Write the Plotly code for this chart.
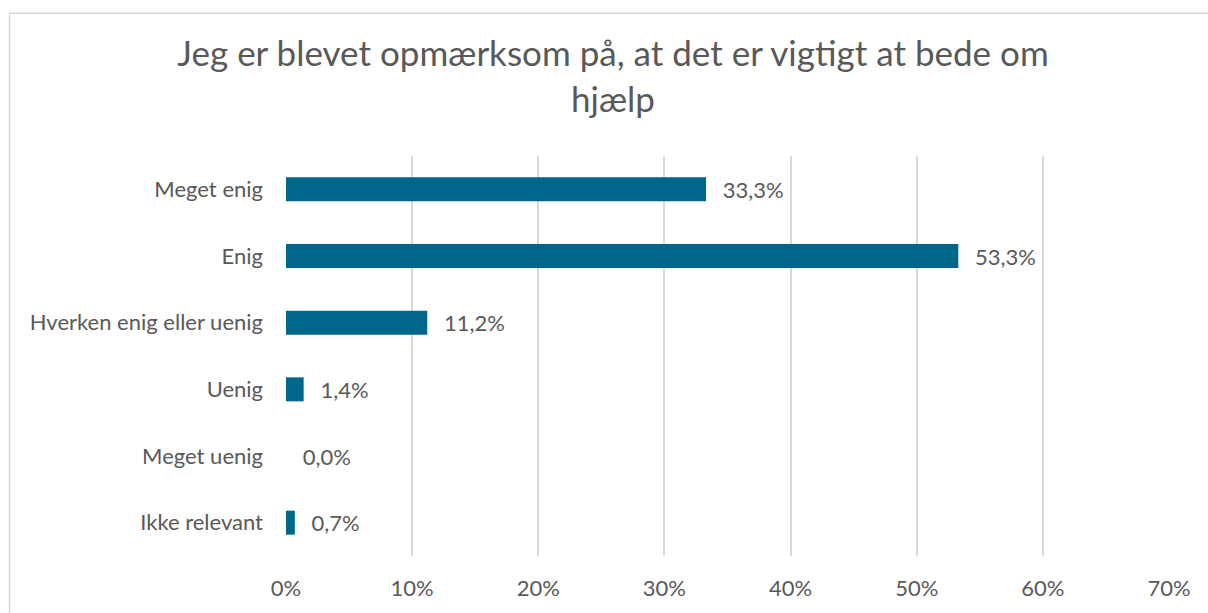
import plotly.graph_objects as go

categories = ["Meget enig", "Enig", "Hverken enig eller uenig", "Uenig", "Meget uenig", "Ikke relevant"]
values = [33.3, 53.3, 11.2, 1.4, 0.0, 0.7]
x_ticks = [0, 10, 20, 30, 40, 50, 60, 70]
x_tick_labels = ["0%", "10%", "20%", "30%", "40%", "50%", "60%", "70%"]
title_text = "Jeg er blevet opmærksom på, at det er vigtigt at bede om<br>hjælp"

W, H = 1208, 613
L, R, T, B = 286, 1169, 156, 558
FONT = "Lato"
TXT = "#595959"

fig = go.Figure(go.Bar(
    y=categories, x=values, orientation="h",
    marker=dict(color="#00678A", line=dict(width=0)),
    width=0.36,
    text=values,
    texttemplate="\u2002\u2009%{x:.1f}%",
    textposition="outside",
    constraintext="none",
    textfont=dict(family=FONT, size=22, color=TXT),
    cliponaxis=False,
))

fig.update_layout(
    width=W, height=H,
    margin=dict(l=L, r=W - R, t=T, b=H - B, pad=0),
    paper_bgcolor="white", plot_bgcolor="white",
    separators=",.",
    showlegend=False,
    title=dict(text=title_text, x=613 / W, xanchor="center", xref="container",
               y=1 - 66 / H, yanchor="middle", yref="container",
               font=dict(family=FONT, size=35, color=TXT)),
    xaxis=dict(range=[0, 70], tickvals=x_ticks, ticktext=x_tick_labels,
               showgrid=True, gridcolor="#D9D9D9", gridwidth=1.5,
               zeroline=False, showline=False, ticks="",
               ticklabelstandoff=17,
               tickfont=dict(family=FONT, size=22, color=TXT)),
    yaxis=dict(autorange="reversed", showgrid=False, zeroline=False, showline=False,
               ticks="", ticklabelstandoff=22,
               tickfont=dict(family=FONT, size=22, color=TXT)),
    shapes=[dict(type="rect", xref="paper", yref="paper",
                 x0=(9.5 - L) / (R - L), x1=(1230 - L) / (R - L),
                 y0=(B - 640) / (B - T), y1=(B - 12.5) / (B - T),
                 line=dict(color="#D9D9D9", width=1.5), fillcolor="rgba(0,0,0,0)",
                 layer="below")],
)

fig.write_html("out.html", config={"displayModeBar": False},
               post_script="document.body.style.margin='0';document.body.style.overflow='hidden';")
